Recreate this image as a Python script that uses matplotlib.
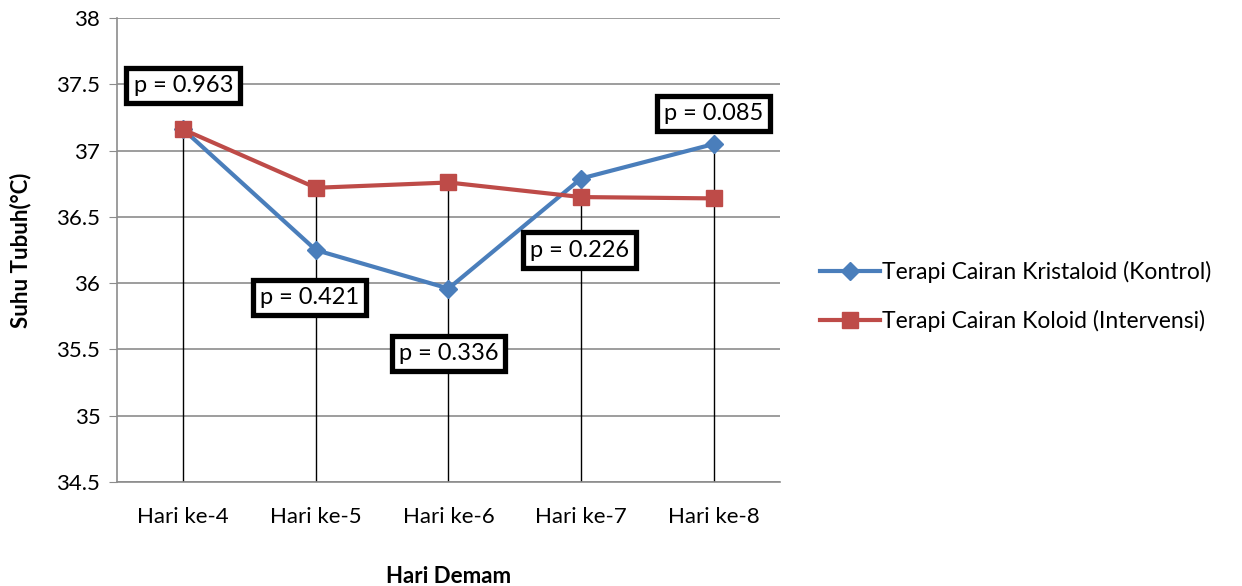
import numpy as np
import matplotlib.pyplot as plt

plt.rcParams['font.family'] = ['Lato', 'DejaVu Sans']

# --- Data ---
days = ['Hari ke-4', 'Hari ke-5', 'Hari ke-6', 'Hari ke-7', 'Hari ke-8']
kristaloid = [37.16, 36.25, 35.96, 36.79, 37.05]
koloid = [37.16, 36.72, 36.76, 36.65, 36.64]
p_values = ['0.963', '0.421', '0.336', '0.226', '0.085']
# label anchor (x offset, y position) for each p-value box
p_label_pos = [(0.0, 37.49), (-0.05, 35.89), (0.0, 35.47), (-0.01, 36.25), (0.0, 37.28)]

blue = '#4A7EBB'
red = '#BE4B48'

fig = plt.figure(figsize=(12.42, 5.86), dpi=100)
ax = fig.add_axes([0.0942, 0.1775, 0.5338, 0.7915])

x = np.arange(len(days))

# drop lines from the higher point to the axis floor
top = np.maximum(kristaloid, koloid)
ax.vlines(x, 34.5, top, colors='black', linewidth=1.0, zorder=2)

ax.plot(x, kristaloid, color=blue, linewidth=3, marker='D', markersize=9.5,
        label='Terapi Cairan Kristaloid (Kontrol)', zorder=3)
ax.plot(x, koloid, color=red, linewidth=3, marker='s', markersize=11.5,
        label='Terapi Cairan Koloid (Intervensi)', zorder=4)

for i, (p, (dx, yy)) in enumerate(zip(p_values, p_label_pos)):
    ax.text(x[i] + dx, yy, f'p = {p}', ha='center', va='center', fontsize=17,
            zorder=6,
            bbox=dict(boxstyle='square,pad=0.3', fc='white', ec='black', lw=3.8))

ax.set_xlim(-0.5, 4.5)
ax.set_ylim(34.5, 38)
ax.set_yticks(np.arange(34.5, 38.01, 0.5))
ax.set_yticklabels(['34.5', '35', '35.5', '36', '36.5', '37', '37.5', '38'])
ax.set_xticks(x)
ax.set_xticklabels(days)
ax.yaxis.grid(True, color='#8C8C8C', linewidth=1.2)
ax.set_axisbelow(True)

for s in ['top', 'right']:
    ax.spines[s].set_visible(False)
ax.spines['left'].set_color('#8C8C8C')
ax.spines['bottom'].set_color('#8C8C8C')
ax.spines['left'].set_linewidth(1.2)
ax.spines['bottom'].set_linewidth(1.2)
ax.tick_params(axis='y', direction='out', length=6, color='#8C8C8C',
               labelsize=16, pad=6)
ax.tick_params(axis='x', length=0, labelsize=16, pad=18)

ax.set_xlabel('Hari Demam', fontsize=16, fontweight='bold', labelpad=28)
ax.set_ylabel('Suhu Tubuh(°C)', fontsize=16, fontweight='bold', labelpad=18)

ax.legend(loc='center left', bbox_to_anchor=(1.03, 0.40), frameon=False,
          fontsize=16.5, handlelength=2.6, handletextpad=0.1, labelspacing=1.2)

fig.savefig('out.png', dpi=100)
